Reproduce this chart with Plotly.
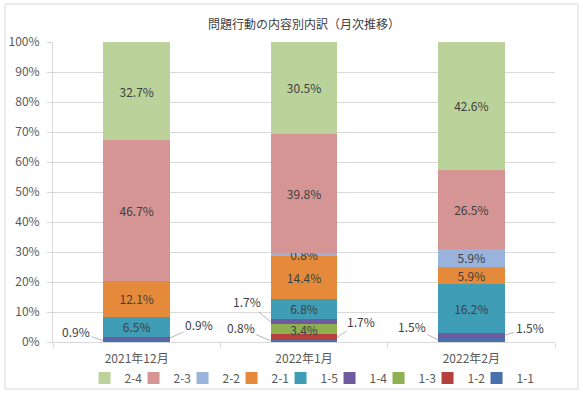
import plotly.graph_objects as go
import numpy as np

months = ["2021年12月", "2022年1月", "2022年2月"]
series = ["1-1", "1-2", "1-3", "1-4", "1-5", "2-1", "2-2", "2-3", "2-4"]
v_1_1 = [0.9, 0.8, 1.5]
v_1_2 = [0.0, 1.7, 0.0]
v_1_3 = [0.0, 3.4, 0.0]
v_1_4 = [0.9, 1.7, 1.5]
v_1_5 = [6.5, 6.8, 16.2]
v_2_1 = [12.1, 14.4, 5.9]
v_2_2 = [0.0, 0.8, 5.9]
v_2_3 = [46.7, 39.8, 26.5]
v_2_4 = [32.7, 30.5, 42.6]
y_ticks = [0, 10, 20, 30, 40, 50, 60, 70, 80, 90, 100]
y_tick_labels = [f"{t}%" for t in y_ticks]
title = "問題行動の内容別内訳（月次推移）"
# labels drawn outside with leader lines: (series, month index, side)
callouts = [("1-1", 0, "left"), ("1-4", 0, "right"),
            ("1-4", 1, "left"), ("1-1", 1, "left"), ("1-2", 1, "right"),
            ("1-1", 2, "left"), ("1-4", 2, "right")]

values = [v_1_1, v_1_2, v_1_3, v_1_4, v_1_5, v_2_1, v_2_2, v_2_3, v_2_4]
colors = ["#4A6FAD", "#B5403E", "#8FB050", "#6E5A9E", "#3F9DB6",
          "#E58A3A", "#9AB3DC", "#D59594", "#BBD39B"]

FONT = "Noto Sans CJK JP"
TXT = "#404040"
outside = {(s, i) for s, i, _ in callouts}

fig = go.Figure()
for name, vals, col in zip(series, values, colors):
    texts = [("" if (v <= 0 or (name, i) in outside) else f"{v:.1f}%")
             for i, v in enumerate(vals)]
    fig.add_trace(go.Bar(
        x=months, y=vals, name=name, marker=dict(color=col, line=dict(width=0)),
        text=texts, textposition="inside", insidetextanchor="middle",
        textfont=dict(family=FONT, size=12, color=TXT), textangle=0,
        cliponaxis=False, hoverinfo="skip",
        legendwidth=(22 if name == "1-1" else None)))

# callout annotations (positions in the normalised 100% stack)
arr = np.array(values)
totals = arr.sum(axis=0)
cum = np.cumsum(arr, axis=0) / totals * 100
offsets = {("1-1", 0): (-27, -9), ("1-4", 0): (29, -13),
           ("1-4", 1): (-24, -20), ("1-1", 1): (-30, -13), ("1-2", 1): (24, -16),
           ("1-1", 2): (-26, -13), ("1-4", 2): (25, -8)}
half = 0.2
for s, i, side in callouts:
    k = series.index(s)
    v = values[k][i]
    mid = cum[k][i] - (v / totals[i] * 100) / 2
    ax, ay = offsets[(s, i)]
    fig.add_annotation(x=i + (half if side == "right" else -half), y=mid,
                       xref="x", yref="y", text=f"{v:.1f}%", showarrow=True,
                       arrowhead=0, arrowwidth=0.8, arrowcolor="#A6A6A6",
                       ax=ax, ay=ay, standoff=0,
                       font=dict(family=FONT, size=12, color=TXT))

L, R, T, B = 53, 28, 42, 52
W, H = 583, 394
pw, ph = W - L - R, H - T - B
fig.add_shape(type="rect", xref="paper", yref="paper",
              x0=(5 - L) / pw, x1=(578 - L) / pw,
              y0=((H - B) - 389) / ph, y1=((H - B) - 4) / ph,
              line=dict(color="#D9D9D9", width=1), layer="below")

fig.update_layout(
    barmode="stack", barnorm="percent", bargap=0.6, width=W, height=H,
    margin=dict(l=L, r=R, t=T, b=B, autoexpand=False),
    plot_bgcolor="white", paper_bgcolor="white",
    font=dict(family=FONT, size=12, color="#595959"),
    uniformtext=dict(minsize=12, mode="show"),
    title=dict(text=title, x=0.5, xref="paper", xanchor="center",
               y=1 - 25 / H, yref="container", yanchor="middle",
               font=dict(family=FONT, size=12, color="#404040")),
    legend=dict(orientation="h", x=0.52, xanchor="center", xref="paper",
                y=(342 - 378) / ph, yanchor="middle", traceorder="reversed",
                entrywidth=4, font=dict(family=FONT, size=12, color="#595959"),
                bgcolor="rgba(0,0,0,0)"),
    showlegend=True,
)
fig.update_xaxes(type="category", range=[-0.5, len(months) - 0.5],
                 showline=True, linecolor="#D9D9D9", linewidth=1,
                 ticks="outside", tickson="boundaries", ticklen=5, tickcolor="#D9D9D9",
                 showgrid=False, automargin=False, ticklabelstandoff=6,
                 tickfont=dict(family=FONT, size=12, color="#595959"))
fig.update_yaxes(range=[0, 100], tickvals=y_ticks, ticktext=y_tick_labels,
                 showgrid=True, gridcolor="#D9D9D9", gridwidth=1,
                 showline=True, linecolor="#D9D9D9", ticks="outside", ticklen=5,
                 tickcolor="#D9D9D9", zeroline=False, automargin=False,
                 ticklabelstandoff=5,
                 tickfont=dict(family=FONT, size=12, color="#595959"))

fig.write_html("out.html", config={"displayModeBar": False},
               post_script="document.body.style.margin='0';")
